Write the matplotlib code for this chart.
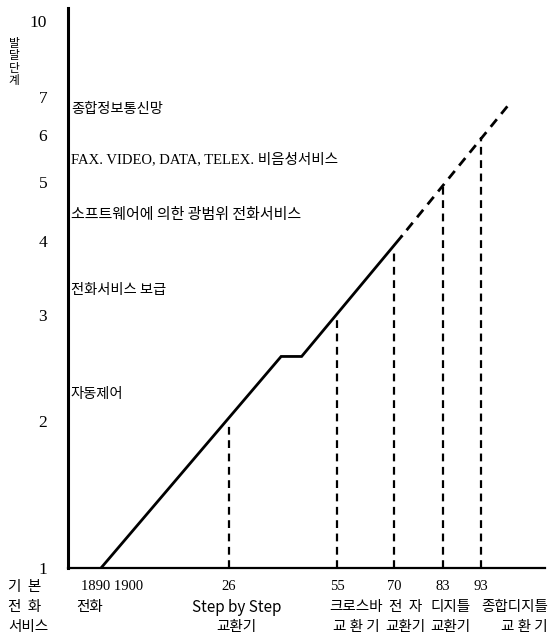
import numpy as np
import matplotlib
matplotlib.use('Agg')
import matplotlib.pyplot as plt
import matplotlib.transforms as mtransforms

# development path of switching systems (level)
line_years = [1890, 1940, 1945.5, 1972]
line_levels = [1, 2.56, 2.56, 4.07]
future_years = [2000, 1972]
future_levels = [6.74, 4.07]

era_years = [1926, 1955, 1970, 1983, 1993]
era_levels = [1.97, 3.0, 3.88, 4.92, 5.96]
era_ticks = ['26', '55', '70', '83', '93']
era_names = ['Step by Step', '크로스바', '전  자', '디지틀', '종합디지틀']
era_names2 = ['교환기', '교 환 기', '교환기', '교환기', '교 환 기']

y_ticks = [1, 2, 3, 4, 5, 6, 7, 10]
services = ['자동제어', '전화서비스 보급', '소프트웨어에 의한 광범위 전화서비스',
            'FAX. VIDEO, DATA, TELEX. 비음성서비스', '종합정보통신망']
service_levels = [2.22, 3.3, 4.41, 5.47, 6.66]

KR = ['Noto Sans CJK KR', 'DejaVu Sans']
SERIF = ['Liberation Serif', 'Noto Sans CJK KR']

# axis scale knots (the original axis is hand drawn, not exactly log)
lvl_k = np.log10([1, 2, 3, 4, 5, 6, 7, 10, 11])
h_k = np.array([0, 147, 253, 327, 386, 433, 471, 547, 570])
yr_k = np.array([1881, 1890, 1926, 1955, 1970, 1983, 1993, 2010])
px_k = np.array([0, 33, 161, 269, 326, 375, 413, 477])


def y_fwd(v):
    return np.interp(np.log10(np.clip(v, 1e-3, None)), lvl_k, h_k)


def y_inv(h):
    return 10 ** np.interp(h, h_k, lvl_k)


def x_fwd(v):
    return np.interp(v, yr_k, px_k)


def x_inv(p):
    return np.interp(p, px_k, yr_k)


fig = plt.figure(figsize=(5.49, 6.37), dpi=100)
ax = fig.add_axes([68 / 549, 69 / 637, 477 / 549, 560 / 637])
ax.set_yscale('function', functions=(y_fwd, y_inv))
ax.set_xscale('function', functions=(x_fwd, x_inv))
ax.set_xlim(1881, 2010)
ax.set_ylim(1, y_inv(560))

ax.plot(line_years, line_levels, color='black', lw=2.0, solid_joinstyle='miter')
ax.plot(future_years, future_levels, color='black', lw=2.0, linestyle=(0, (3.5, 2.5)))
ax.vlines(era_years, 1, era_levels, colors='black', lw=1.6, linestyles=(0, (3.5, 2.5)))

for sp in ['top', 'right']:
    ax.spines[sp].set_visible(False)
ax.spines['left'].set_linewidth(2.2)
ax.spines['bottom'].set_linewidth(1.6)

ax.set_yticks(y_ticks)
ax.set_yticklabels([str(t) for t in y_ticks], family=SERIF, fontsize=12.5)
ax.yaxis.set_minor_locator(matplotlib.ticker.NullLocator())
ax.tick_params(axis='y', length=0, pad=15)
ax.set_xticks([])
ax.xaxis.set_minor_locator(matplotlib.ticker.NullLocator())

fig.text(14 / 549, 1 - 62 / 637, '발\n달\n단\n계', family=KR, fontsize=8.5,
         ha='center', va='center', linespacing=0.95)

# service descriptions along the y axis
tr_y = mtransforms.blended_transform_factory(ax.transAxes, ax.transData)
for s, lv in zip(services, service_levels):
    fam = SERIF if s.startswith('FAX') else KR
    size = 10.5 if fam == SERIF else (10.8 if s.startswith('소프트') else 10.3)
    ax.text(0.006, lv, s, transform=tr_y, family=fam, fontsize=size,
            ha='left', va='center')

# labels under the x axis
tr_x = mtransforms.blended_transform_factory(ax.transData, fig.transFigure)
row1, row2, row3 = 1 - 587 / 637, 1 - 607 / 637, 1 - 627 / 637
name_shift = [1928, 1960, 1973, 1985, None]
for yr, sh, t, n1, n2 in zip(era_years, name_shift, era_ticks, era_names, era_names2):
    ax.text(yr, row1, t, transform=tr_x, family=SERIF, fontsize=10.5, ha='center', va='center')
    size = 11 if n1.startswith('Step') else 10.5
    if sh is None:
        fig.text(548 / 549, row2, n1, family=KR, fontsize=size, ha='right', va='center')
        fig.text(548 / 549, row3, n2, family=KR, fontsize=size, ha='right', va='center')
    else:
        ax.text(sh, row2, n1, transform=tr_x, family=KR, fontsize=size, ha='center', va='center')
        ax.text(sh, row3, n2, transform=tr_x, family=KR, fontsize=10.5, ha='center', va='center')

ax.text(1893, row1, '1890 1900', transform=tr_x, family=SERIF, fontsize=10.5,
        ha='center', va='center')
ax.text(1887, row2, '전화', transform=tr_x, family=KR, fontsize=10.5, ha='center', va='center')
fig.text(8 / 549, row1, '기  본', family=KR, fontsize=10.5, ha='left', va='center')
fig.text(8 / 549, row2, '전  화', family=KR, fontsize=10.5, ha='left', va='center')
fig.text(8 / 549, row3, '서비스', family=KR, fontsize=10.5, ha='left', va='center')

fig.savefig('out.png', dpi=100)
